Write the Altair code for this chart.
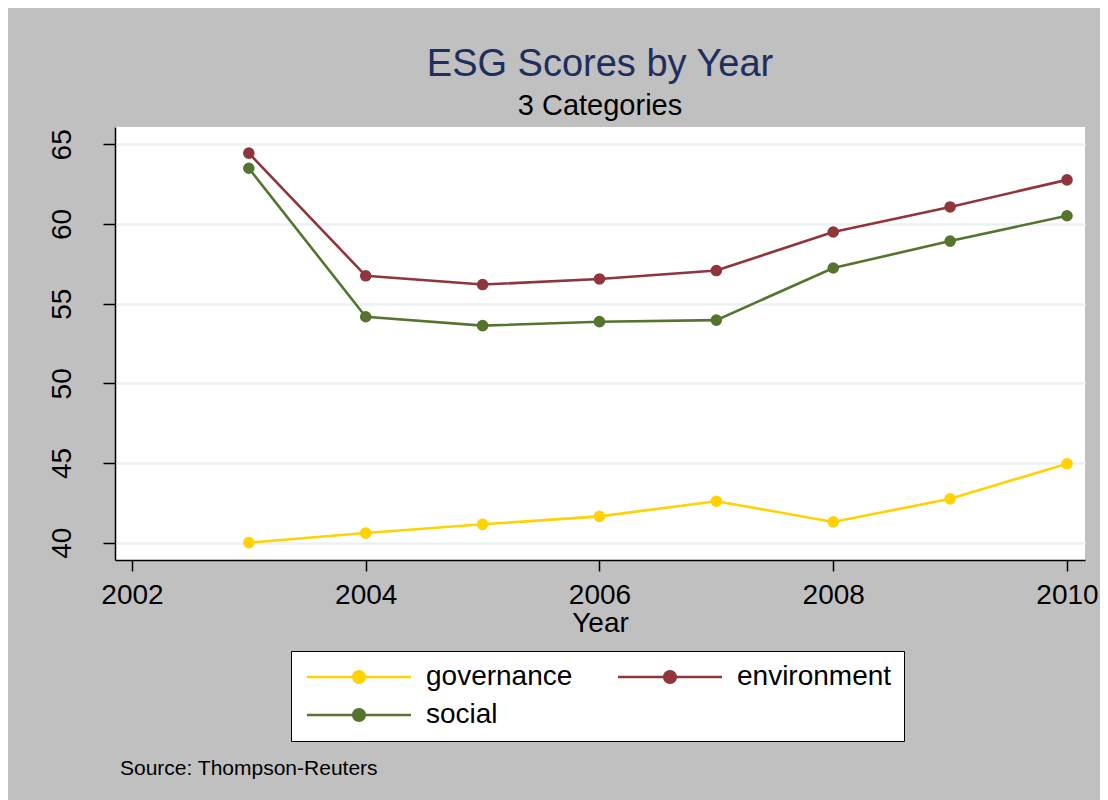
import altair as alt
import pandas as pd

years = [2003, 2004, 2005, 2006, 2007, 2008, 2009, 2010]
governance = [40.0, 40.6, 41.15, 41.65, 42.6, 41.3, 42.75, 44.95]
environment = [64.45, 56.75, 56.2, 56.55, 57.08, 59.5, 61.07, 62.77]
social = [63.5, 54.18, 53.62, 53.87, 53.97, 57.24, 58.93, 60.52]

categories = ["governance", "environment", "social"]
colors = ["#ffd200", "#90353b", "#55752f"]
x_ticks = [2002, 2004, 2006, 2008, 2010]
y_ticks = [40, 45, 50, 55, 60, 65]
source_text = "Source: Thompson-Reuters"

rows = []
for name, vals in zip(categories, [governance, environment, social]):
    for yr, v in zip(years, vals):
        rows.append({"Year": yr, "score": v, "series": name})
df = pd.DataFrame(rows)

FONT = "Liberation Sans"

legend_path = ("M-1,-0.13 L9.4,-0.13 L9.4,0.13 L-1,0.13 Z "
               "M3.5,0 A0.7,0.7 0 1,1 4.9,0 A0.7,0.7 0 1,1 3.5,0 Z")

x_enc = alt.X("Year:Q",
              scale=alt.Scale(domain=[2001.855, 2010.154], nice=False, zero=False),
              axis=alt.Axis(values=x_ticks, format="d", title="Year",
                            labelFontSize=28, titleFontSize=28, titleFontWeight="normal",
                            tickSize=11, labelPadding=10, titlePadding=0,
                            domainColor="black", domainWidth=1.5, tickColor="black",
                            tickWidth=1.5, grid=False, labelColor="black",
                            titleColor="black", labelFont=FONT, titleFont=FONT,
                            labelFlush=False))
y_enc = alt.Y("score:Q",
              scale=alt.Scale(domain=[38.91, 66.09], nice=False, zero=False),
              axis=alt.Axis(values=y_ticks, title=None, labelFontSize=28,
                            labelAngle=270, labelAlign="center", labelBaseline="alphabetic",
                            labelPadding=33, tickSize=12, domainColor="black",
                            domainWidth=1.5, tickColor="black", tickWidth=1.5,
                            grid=True, gridColor="#eaf2f3", gridWidth=2.5,
                            labelColor="black", labelFont=FONT, labelFlush=False))
color_enc = alt.Color("series:N",
                      scale=alt.Scale(domain=categories, range=colors),
                      sort=categories,
                      legend=alt.Legend(title=None, orient="none", legendX=176, legendY=524,
                                        columns=2, direction="horizontal",
                                        fillColor="white", strokeColor="black",
                                        padding=12, labelFontSize=28, labelFont=FONT,
                                        labelColor="black", symbolType=legend_path,
                                        symbolSize=400, symbolStrokeWidth=0,
                                        labelOffset=95, columnPadding=41,
                                        rowPadding=10, labelLimit=400))

base = alt.Chart(df)
lines = base.mark_line(strokeWidth=2.6).encode(x=x_enc, y=y_enc, color=color_enc)
points = base.mark_point(filled=True, size=135, opacity=1, shape="circle").encode(
    x=x_enc, y=y_enc, color=color_enc)

src = alt.Chart(pd.DataFrame({"t": [source_text]})).mark_text(
    align="left", baseline="alphabetic", fontSize=21, font=FONT, color="black"
).encode(x=alt.value(5), y=alt.value(648), text="t:N")

chart = alt.layer(lines, points, src).properties(
    width=970, height=433,
    autosize=alt.AutoSizeParams(type="none"),
    padding={"left": 107, "top": 119, "right": 15, "bottom": 240},
    background="#c0c0c0",
    title=alt.TitleParams(text="ESG Scores by Year", subtitle="3 Categories",
                          anchor="middle", frame="group", fontSize=38,
                          subtitleFontSize=29, font=FONT, subtitleFont=FONT,
                          fontWeight="normal", color="#1f2e5e",
                          subtitleColor="black", offset=6, subtitlePadding=8),
).configure_view(fill="white", stroke=None)

chart.save("out.html", embed_options={"renderer": "svg", "actions": False})
